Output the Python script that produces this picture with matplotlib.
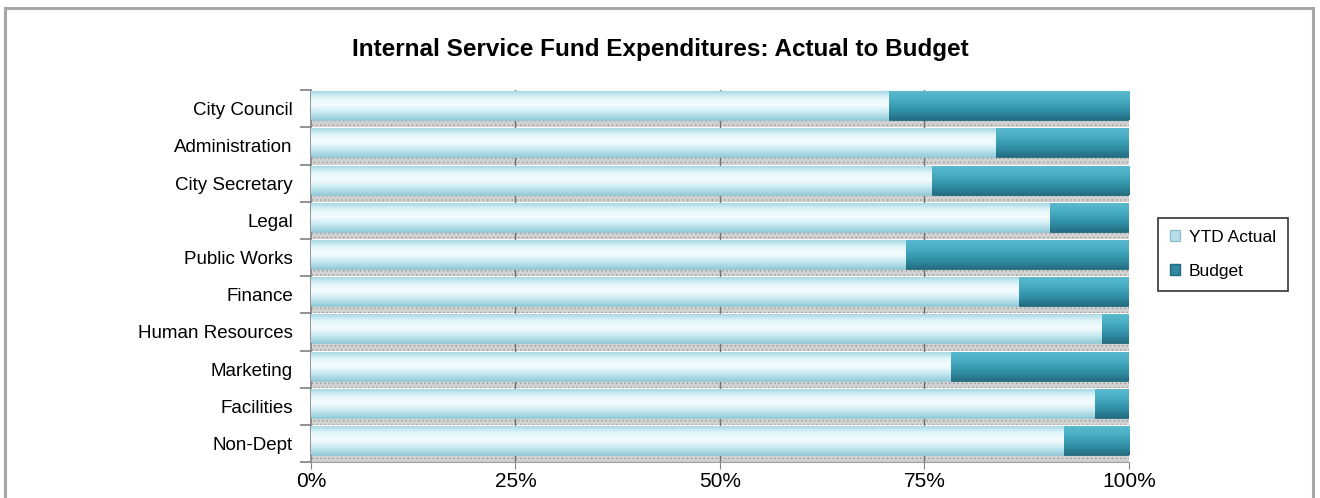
import numpy as np
import matplotlib.pyplot as plt
from matplotlib.colors import LinearSegmentedColormap
from matplotlib.patches import Patch, Rectangle
from matplotlib.ticker import FixedLocator, NullFormatter

plt.rcParams['font.family'] = ['Liberation Sans', 'DejaVu Sans']

departments = ["City Council", "Administration", "City Secretary", "Legal",
               "Public Works", "Finance", "Human Resources", "Marketing",
               "Facilities", "Non-Dept"]
ytd_actual = [70.6, 83.8, 75.9, 90.4, 72.8, 86.6, 96.7, 78.3, 95.9, 92.0]
budget = [100 - v for v in ytd_actual]
x_ticks = [0, 25, 50, 75, 100]
x_labels = ["0%", "25%", "50%", "75%", "100%"]

LIGHT = ["#9fd4e0", "#e2f6fa", "#f4fcfe", "#c8e9f1", "#94cbd8"]
TEAL = ["#5cbbcf", "#4db1c7", "#3c9fb6", "#2f8aa0", "#236d80"]


def shade(ax, patch, colors):
    # vertical gradient clipped to the bar
    x0, y0 = patch.get_x(), patch.get_y()
    w, h = patch.get_width(), patch.get_height()
    if w <= 0:
        return
    cmap = LinearSegmentedColormap.from_list("g", colors)
    grad = np.linspace(0, 1, 64).reshape(-1, 1)
    im = ax.imshow(grad, cmap=cmap, aspect="auto", interpolation="bilinear",
                   extent=(x0, x0 + w, y0 + h, y0), zorder=3)
    im.set_clip_path(patch)


fig = plt.figure(figsize=(13.2, 4.98), dpi=100)
fig.patches.append(Rectangle((0.004, -0.05), 0.991, 1.034, transform=fig.transFigure,
                             fill=False, edgecolor="#a6a6a6", linewidth=2.2))
ax = fig.add_axes([0.2356, 0.072, 0.6197, 0.747])

y = np.arange(len(departments))

# textured floor strip under each bar
plt.rcParams['hatch.color'] = "#999999"
floor = ax.barh(y + 0.40, [100] * len(y), height=0.20, left=0,
                color="#d2d2d2", linewidth=0, hatch="....", zorder=1)
for p in floor:
    p.set_hatch_linewidth(0.5)

actual_bars = ax.barh(y - 0.08, ytd_actual, height=0.78, color=LIGHT[2],
                      edgecolor="#8fc4d1", linewidth=0.6, zorder=2)
budget_bars = ax.barh(y - 0.08, budget, left=ytd_actual, height=0.78, color=TEAL[2],
                      edgecolor="#22697b", linewidth=0.6, zorder=2)
for p in actual_bars:
    shade(ax, p, LIGHT)
for p in budget_bars:
    shade(ax, p, TEAL)

ax.set_xlim(0, 100)
ax.set_ylim(len(departments) - 0.5, -0.5)

ax.xaxis.set_major_locator(FixedLocator(x_ticks))
ax.set_xticklabels(x_labels, fontsize=15)
ax.tick_params(axis="x", length=5, color="#808080", pad=2)
for gx in x_ticks[1:-1]:
    ax.axvline(gx, color="#707070", linewidth=1.0, zorder=1.5)

ax.set_yticks(y)
ax.set_yticklabels(departments, fontsize=13.5)
ax.tick_params(axis="y", length=0, pad=13)
ax.yaxis.set_minor_locator(FixedLocator(np.arange(-0.5, len(departments), 1.0)))
ax.yaxis.set_minor_formatter(NullFormatter())
ax.tick_params(axis="y", which="minor", length=8, color="#808080", width=1.2)

for side in ("top", "right"):
    ax.spines[side].set_visible(False)
ax.spines["left"].set_color("#808080")
ax.spines["left"].set_linewidth(1.2)
ax.spines["bottom"].set_color("#a0a0a0")

fig.text(0.5, 0.9, "Internal Service Fund Expenditures: Actual to Budget",
         ha="center", va="center", fontsize=17.5, fontweight="bold")

handles = [Patch(facecolor="#b9dde6", edgecolor="#8fbfcc"),
           Patch(facecolor="#2f8aa0", edgecolor="#22697b")]
leg = fig.legend(handles, ["YTD Actual", "Budget"], loc="center left",
                 bbox_to_anchor=(0.877, 0.489), fontsize=12.5, frameon=True,
                 fancybox=False, edgecolor="black", handlelength=0.6,
                 handleheight=0.6, labelspacing=1.1, borderpad=0.7,
                 handletextpad=0.5, borderaxespad=0)
leg.get_frame().set_linewidth(1.2)

fig.savefig("out.png", dpi=100)
